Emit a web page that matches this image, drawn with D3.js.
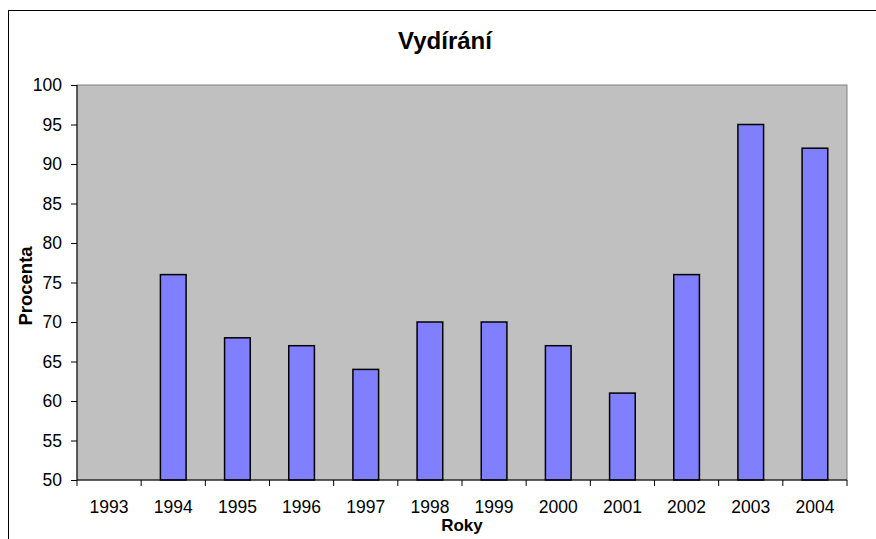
<!DOCTYPE html>
<html>
<head>
<meta charset="utf-8">
<script src="https://cdn.jsdelivr.net/npm/d3@7"></script>
<style>
  body { margin: 0; background: #fff; }
  text { font-family: Arial, "Liberation Sans", sans-serif; }
</style>
</head>
<body>
<svg id="chart"></svg>
<script>
// data
let years = ['1993','1994','1995','1996','1997','1998','1999','2000','2001','2002','2003','2004'];
let values = [null, 76, 68, 67, 64, 70, 70, 67, 61, 76, 95, 92];
let yTicks = [50,55,60,65,70,75,80,85,90,95,100];

let svgWidth = 876;
let svgHeight = 539;
let plot = {left: 77, top: 85, right: 847, bottom: 480};

let svg = d3.select('#chart')
    .attr('width', svgWidth)
    .attr('height', svgHeight);

// outer chart border
svg.append('rect')
    .attr('x', 8.5).attr('y', 10.5)
    .attr('width', 900).attr('height', 600)
    .attr('fill', '#fff')
    .attr('stroke', '#000')
    .attr('stroke-width', 1);

let xScale = d3.scaleBand()
    .domain(years)
    .range([plot.left, plot.right]);

let yScale = d3.scaleLinear()
    .domain([50, 100])
    .range([plot.bottom, plot.top]);

// plot area
svg.append('rect')
    .attr('x', plot.left).attr('y', plot.top)
    .attr('width', plot.right - plot.left)
    .attr('height', plot.bottom - plot.top)
    .attr('fill', '#c0c0c0')
    .attr('stroke', '#808080')
    .attr('stroke-width', 1);

// bars (gap width 150%)
let barWidth = xScale.bandwidth() / 2.5;
svg.selectAll('rect.bar')
    .data(years.map((y, i) => ({year: y, value: values[i]})).filter(d => d.value != null))
    .enter()
    .append('rect')
    .attr('class', 'bar')
    .attr('x', d => xScale(d.year) + (xScale.bandwidth() - barWidth) / 2)
    .attr('y', d => yScale(d.value))
    .attr('width', barWidth)
    .attr('height', d => yScale(50) - yScale(d.value))
    .attr('fill', '#8080ff')
    .attr('stroke', '#000')
    .attr('stroke-width', 1.5);

// y axis
let yAxis = d3.axisLeft(yScale)
    .tickValues(yTicks)
    .tickSize(6)
    .tickPadding(9);

let gy = svg.append('g')
    .attr('transform', 'translate(' + plot.left + ',0)')
    .call(yAxis);
gy.select('.domain').attr('stroke', '#000').attr('d', 'M0,' + plot.top + 'V' + plot.bottom);
gy.selectAll('.tick line').attr('stroke', '#000');
gy.selectAll('.tick text')
    .attr('font-size', 17.5)
    .attr('fill', '#000');

// x axis: ticks between categories
let gx = svg.append('g')
    .attr('transform', 'translate(0,' + plot.bottom + ')');
gx.append('line')
    .attr('x1', plot.left).attr('x2', plot.right)
    .attr('stroke', '#000');
let boundaries = years.map(y => xScale(y)).concat([plot.right]);
gx.selectAll('line.tick')
    .data(boundaries)
    .enter()
    .append('line')
    .attr('class', 'tick')
    .attr('x1', d => d).attr('x2', d => d)
    .attr('y1', 0).attr('y2', 6)
    .attr('stroke', '#000');
gx.selectAll('text')
    .data(years)
    .enter()
    .append('text')
    .attr('x', d => xScale(d) + xScale.bandwidth() / 2)
    .attr('y', 33)
    .attr('text-anchor', 'middle')
    .attr('font-size', 17.5)
    .attr('fill', '#000')
    .text(d => d);

// titles
svg.append('text')
    .attr('x', 445).attr('y', 49)
    .attr('text-anchor', 'middle')
    .attr('font-size', 24)
    .attr('font-weight', 'bold')
    .text('Vydírání');

svg.append('text')
    .attr('x', (plot.left + plot.right) / 2).attr('y', 531)
    .attr('text-anchor', 'middle')
    .attr('font-size', 17)
    .attr('font-weight', 'bold')
    .text('Roky');

svg.append('text')
    .attr('transform', 'translate(32,' + 286 + ') rotate(-90)')
    .attr('text-anchor', 'middle')
    .attr('font-size', 18.5)
    .attr('font-weight', 'bold')
    .text('Procenta');
</script>
</body>
</html>
